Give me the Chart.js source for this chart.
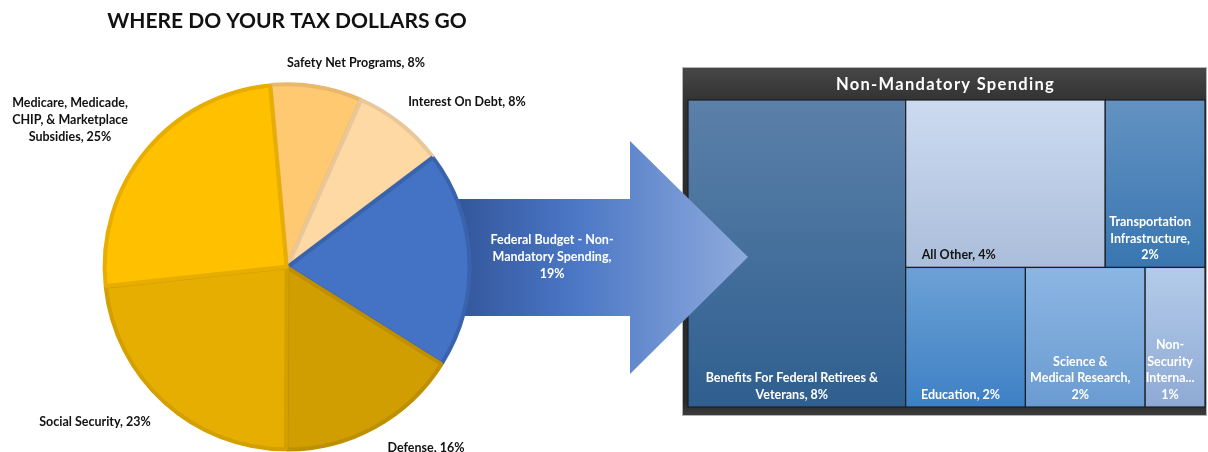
<!DOCTYPE html>
<html>
<head>
<meta charset="utf-8">
<script src="https://cdn.jsdelivr.net/npm/chart.js@4.4.1/dist/chart.umd.min.js"></script>
<style>
  html, body { margin:0; padding:0; width:1208px; height:452px; overflow:hidden; background:#ffffff; }
  #tm { position:absolute; left:682px; top:67px; }
  #pie { position:absolute; left:0; top:0; }
</style>
</head>
<body>
<canvas id="tm" width="525" height="349"></canvas>
<canvas id="pie" width="1208" height="460"></canvas>
<script>
// ---------- DATA ----------
const chartTitle = 'WHERE DO YOUR TAX DOLLARS GO';
const pieCategories = ['Safety Net Programs', 'Interest On Debt', 'Federal Budget - Non-Mandatory Spending', 'Defense', 'Social Security', 'Medicare, Medicade, CHIP, & Marketplace Subsidies'];
const pieValues = [8, 8, 19, 16, 23, 25];

const treeTitle = 'Non-Mandatory Spending';
const treeCategories = ['Benefits For Federal Retirees & Veterans', 'All Other', 'Transportation Infrastructure', 'Education', 'Science & Medical Research', 'Non-Security International'];
const treeValues = [8, 4, 2, 2, 2, 1];

// ---------- LABEL TEXT LAYOUT ({v} = value) ----------
const pieLabelText = [
  'Safety Net Programs, {v}%',
  'Interest On Debt, {v}%',
  'Federal Budget - Non-\nMandatory Spending,\n{v}%',
  'Defense, {v}%',
  'Social Security, {v}%',
  'Medicare, Medicade,\nCHIP, & Marketplace\nSubsidies, {v}%'
];
const treeLabelText = [
  'Benefits For Federal Retirees &\nVeterans, {v}%',
  'All Other, {v}%',
  'Transportation\nInfrastructure,\n{v}%',
  'Education, {v}%',
  'Science &\nMedical Research,\n{v}%',
  'Non-\nSecurity\nInterna...\n{v}%'
];

// ---------- STYLE ----------
const FONT = 'Lato, "Open Sans", sans-serif';
const LABEL_FONT = 'bold 12.5px ' + FONT;
const pieFill   = ['#FFC972', '#FFD9A3', '#4472C4', '#D09E00', '#E5AE00', '#FFC000'];
const pieBorder = ['#E8B96C', '#E8C79B', '#3A63AE', '#BE8F00', '#D3A000', '#E7AD00'];
const pieLabelColor = ['#111', '#111', '#ffffff', '#111', '#111', '#111'];
// label block centre relative to pie centre
const pieLabelOffset = [[69, -204], [180, -165], [265, -10], [139, 181], [-192, 155], [-217, -147]];
// arrow geometry relative to pie centre
const arrowGeom = { left: 163, top: -68, bottom: 49, headX: 343, headTop: -126, headBottom: 107, tipX: 461, tipY: -10 };

const treeTop    = ['#5B80A9', '#CDDBF1', '#6392C2', '#6CA1D5', '#8CB6E3', '#B4CCEA'];
const treeBottom = ['#2F5F8F', '#AABDDA', '#3976B1', '#3E80C5', '#6A9BD1', '#8EA9D4'];
const treeText   = ['#ffffff', '#141414', '#ffffff', '#ffffff', '#ffffff', '#ffffff'];
const treeAlign  = ['center', 'left', 'center', 'center', 'center', 'center'];

function fillTemplate(t, v) { return t.replace('{v}', v).split('\n'); }

function drawLines(ctx, lines, cx, cy, lh, align) {
  const n = lines.length;
  lines.forEach((ln, k) => {
    ctx.textAlign = align || 'center';
    ctx.fillText(ln, cx, cy + (k - (n - 1) / 2) * lh);
  });
}

// ---------- PIE ----------
const arrowPlugin = {
  id: 'arrow',
  beforeDatasetsDraw(chart) {
    const arc = chart.getDatasetMeta(0).data[0];
    if (!arc) return;
    const cx = arc.x, cy = arc.y, g = arrowGeom;
    const ctx = chart.ctx;
    ctx.save();
    const grad = ctx.createLinearGradient(cx + g.left + 10, 0, cx + g.tipX, 0);
    grad.addColorStop(0, '#33579C');
    grad.addColorStop(0.4, '#4B77C5');
    grad.addColorStop(1, '#8FABDD');
    ctx.fillStyle = grad;
    ctx.beginPath();
    ctx.moveTo(cx + g.left, cy + g.top);
    ctx.lineTo(cx + g.headX, cy + g.top);
    ctx.lineTo(cx + g.headX, cy + g.headTop);
    ctx.lineTo(cx + g.tipX, cy + g.tipY);
    ctx.lineTo(cx + g.headX, cy + g.headBottom);
    ctx.lineTo(cx + g.headX, cy + g.bottom);
    ctx.lineTo(cx + g.left, cy + g.bottom);
    ctx.closePath();
    ctx.fill();
    ctx.restore();
  }
};

const pieLabelPlugin = {
  id: 'pieLabels',
  afterDatasetsDraw(chart) {
    const meta = chart.getDatasetMeta(0);
    const ctx = chart.ctx;
    ctx.save();
    ctx.font = LABEL_FONT;
    ctx.textBaseline = 'middle';
    meta.data.forEach((arc, i) => {
      const lines = fillTemplate(pieLabelText[i], pieValues[i]);
      ctx.fillStyle = pieLabelColor[i];
      drawLines(ctx, lines, arc.x + pieLabelOffset[i][0], arc.y + pieLabelOffset[i][1], 16.7);
    });
    // main title
    const a0 = meta.data[0];
    ctx.fillStyle = '#111';
    ctx.font = 'bold 21px ' + FONT;
    ctx.textAlign = 'center';
    ctx.fillText(chartTitle, a0.x, 21);
    ctx.restore();
  }
};

new Chart(document.getElementById('pie'), {
  type: 'pie',
  data: {
    labels: pieCategories,
    datasets: [{
      data: pieValues,
      backgroundColor: pieFill,
      borderColor: pieBorder,
      borderWidth: 4,
      offset: 2
    }]
  },
  options: {
    responsive: false,
    animation: false,
    rotation: -5.2,
    radius: 182,
    layout: { padding: { left: 97, right: 731, top: 77, bottom: 3 } },
    plugins: { legend: { display: false }, tooltip: { enabled: false }, title: { display: false } },
    events: []
  },
  plugins: [arrowPlugin, pieLabelPlugin]
});

// ---------- TREEMAP ----------
function worst(row, s) {
  const sum = row.reduce((a, b) => a + b, 0);
  const mx = Math.max(...row), mn = Math.min(...row);
  return Math.max(s * s * mx / (sum * sum), (sum * sum) / (s * s * mn));
}
function squarify(values, W, H) {
  const total = values.reduce((a, b) => a + b, 0);
  const areas = values.map(v => v * W * H / total);
  const rects = [];
  let x = 0, y = 0, w = W, h = H, i = 0;
  while (i < areas.length) {
    const s = Math.min(w, h);
    let row = [areas[i]], j = i + 1;
    while (j < areas.length) {
      const nr = row.concat(areas[j]);
      if (worst(nr, s) <= worst(row, s)) { row = nr; j++; } else break;
    }
    const sum = row.reduce((a, b) => a + b, 0);
    if (w >= h) {
      const cw = sum / h; let cy = y;
      row.forEach(a => { const rh = a / cw; rects.push({ x, y: cy, w: cw, h: rh }); cy += rh; });
      x += cw; w -= cw;
    } else {
      const rh = sum / w; let cx = x;
      row.forEach(a => { const rw = a / rh; rects.push({ x: cx, y, w: rw, h: rh }); cx += rw; });
      y += rh; h -= rh;
    }
    i = j;
  }
  return rects;
}

const treemapPlugin = {
  id: 'treemap',
  beforeDraw(chart) {
    const ctx = chart.ctx, W = chart.width, H = chart.height;
    ctx.save();
    const g = ctx.createLinearGradient(0, 0, 0, H);
    g.addColorStop(0, '#474747');
    g.addColorStop(0.1, '#323232');
    g.addColorStop(0.5, '#2b2b2b');
    g.addColorStop(0.96, '#2a2a2a');
    g.addColorStop(1, '#3c3c3c');
    ctx.fillStyle = g;
    ctx.fillRect(0, 0, W, H);
    ctx.strokeStyle = '#b5b5b5';
    ctx.lineWidth = 1;
    ctx.strokeRect(0.5, 0.5, W - 1, H - 1);
    ctx.fillStyle = '#ffffff';
    ctx.font = 'bold 16.5px ' + FONT;
    if ('letterSpacing' in ctx) ctx.letterSpacing = '1.3px';
    ctx.textAlign = 'center';
    ctx.textBaseline = 'middle';
    ctx.fillText(treeTitle, W / 2 + 1, 18);
    ctx.restore();
  },
  afterDatasetsDraw(chart) {
    const ctx = chart.ctx, area = chart.chartArea;
    const xs = chart.scales.x, ys = chart.scales.y;
    const aspect = area.width / area.height;
    const rects = squarify(treeValues, aspect, 1);
    ctx.save();
    rects.forEach((r, i) => {
      const x0 = xs.getPixelForValue(r.x / aspect), x1 = xs.getPixelForValue((r.x + r.w) / aspect);
      const y0 = ys.getPixelForValue(r.y), y1 = ys.getPixelForValue(r.y + r.h);
      const grad = ctx.createLinearGradient(0, y0, 0, y1);
      grad.addColorStop(0, treeTop[i]);
      grad.addColorStop(1, treeBottom[i]);
      ctx.fillStyle = grad;
      ctx.fillRect(x0, y0, x1 - x0, y1 - y0);
      ctx.strokeStyle = '#1b1f26';
      ctx.lineWidth = 1.2;
      ctx.strokeRect(x0, y0, x1 - x0, y1 - y0);
      // label
      const lines = fillTemplate(treeLabelText[i], treeValues[i]);
      ctx.font = LABEL_FONT;
      ctx.textBaseline = 'middle';
      ctx.fillStyle = treeText[i];
      const lh = 16.7;
      const lastY = y1 - 12;
      const cyc = lastY - (lines.length - 1) * lh / 2;
      if (treeAlign[i] === 'left') {
        drawLines(ctx, lines, x0 + 16, cyc, lh, 'left');
      } else {
        drawLines(ctx, lines, (x0 + x1) / 2 - 5, cyc, lh, 'center');
      }
    });
    ctx.restore();
  }
};

new Chart(document.getElementById('tm'), {
  type: 'scatter',
  data: { datasets: [{ label: treeTitle, data: [], pointRadius: 0 }] },
  options: {
    responsive: false,
    animation: false,
    layout: { padding: { left: 6, right: 2, top: 33, bottom: 9 } },
    scales: {
      x: { type: 'linear', min: 0, max: 1, display: false },
      y: { type: 'linear', min: 0, max: 1, reverse: true, display: false }
    },
    plugins: { legend: { display: false }, tooltip: { enabled: false } },
    events: []
  },
  plugins: [treemapPlugin]
});
</script>
</body>
</html>
